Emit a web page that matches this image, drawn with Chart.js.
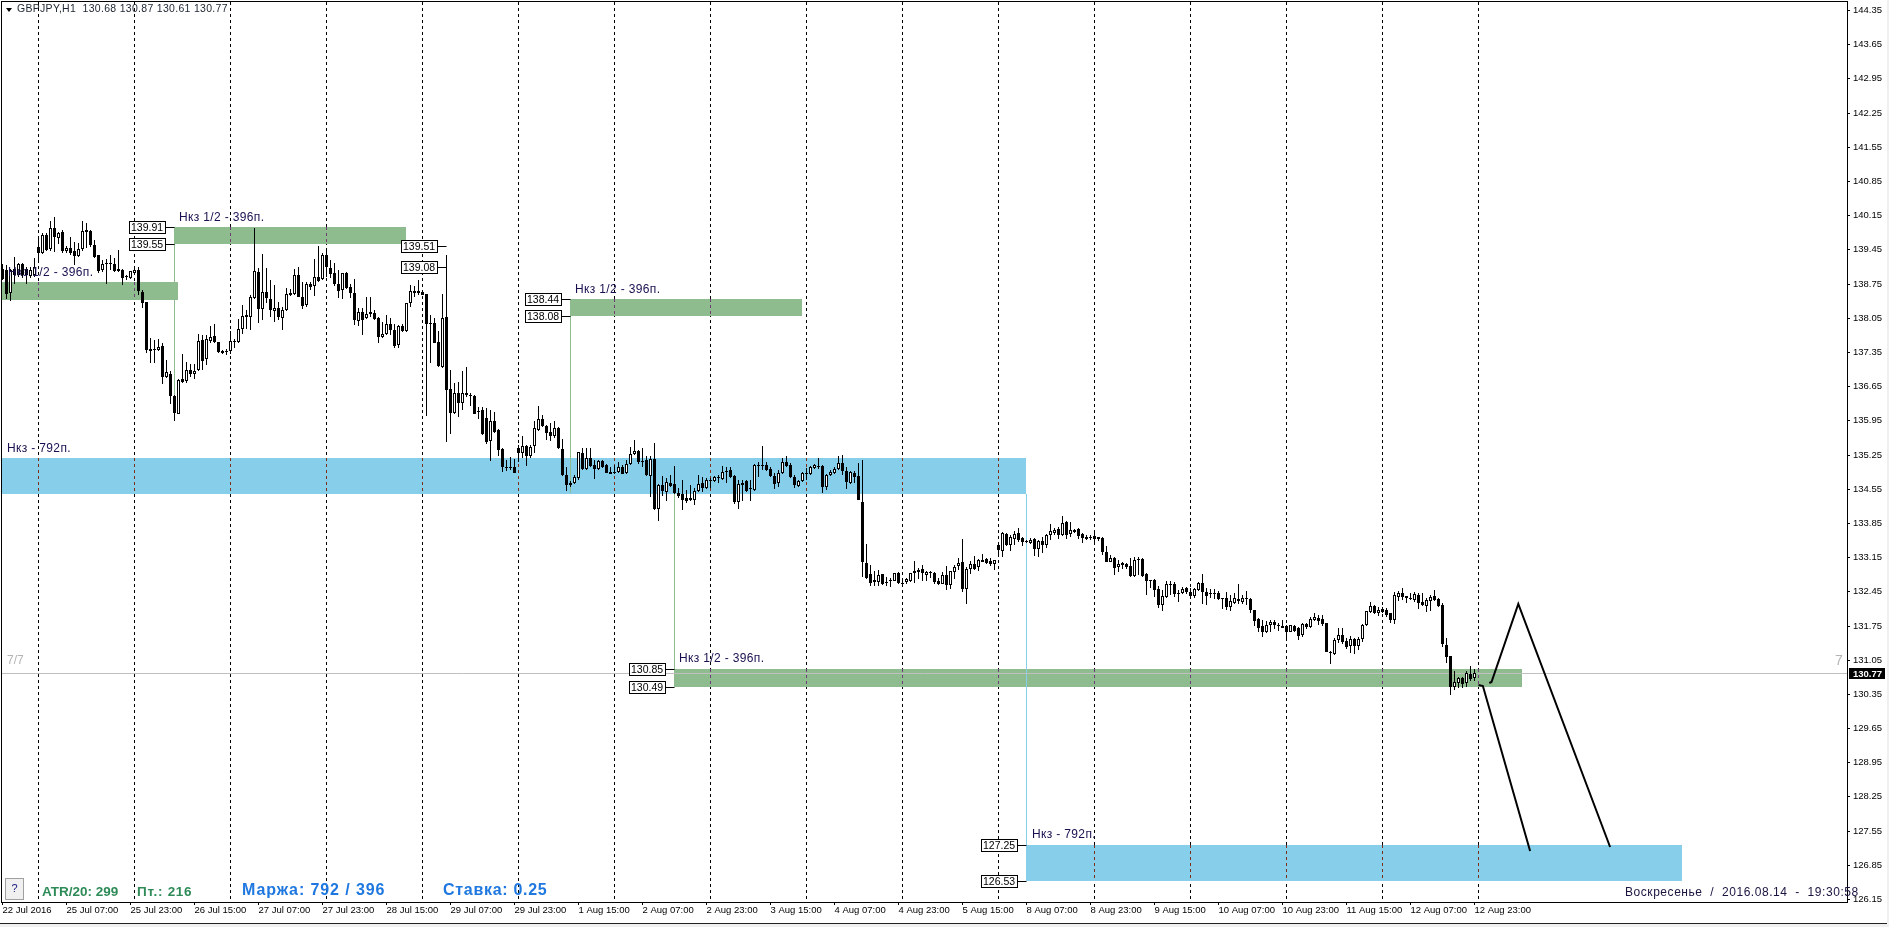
<!DOCTYPE html>
<html>
<head>
<meta charset="utf-8">
<title>GBPJPY,H1</title>
<script src="https://cdn.jsdelivr.net/npm/chart.js@4/dist/chart.umd.js"></script>
<style>
html, body { margin: 0; padding: 0; background: #f0f0f0; overflow: hidden; }
canvas { display: block; }
</style>
</head>
<body>
<canvas id="chart" width="1889" height="927"></canvas>
<script>
// hourly candles
const opens = [
139.04,139.03,138.56,139.04,138.93,139.16,139.04,138.90,138.93,139.50,
139.37,139.74,139.45,139.88,139.68,139.81,139.42,139.48,139.42,139.31,
139.45,139.85,139.83,139.54,139.33,139.03,139.17,139.17,139.16,139.04,
139.03,138.89,138.86,138.97,139.03,138.57,138.37,137.36,137.42,137.39,
137.47,136.83,136.89,136.45,136.09,136.79,136.76,136.98,136.89,136.98,
137.59,137.20,137.58,137.68,137.55,137.32,137.36,137.36,137.57,137.56,
137.83,138.11,138.06,138.45,138.99,138.22,138.57,138.43,138.19,138.26,
138.04,138.21,138.55,138.53,138.92,138.48,138.32,138.75,138.69,138.89,
138.84,139.33,139.06,138.96,138.75,138.62,138.96,138.67,138.56,137.99,
138.17,138.04,138.12,138.14,138.04,137.65,137.71,137.93,137.80,137.49,
137.88,137.77,138.35,138.60,138.60,138.57,138.54,137.95,137.95,137.55,
137.05,138.06,136.60,136.11,136.50,136.31,136.50,136.46,136.45,136.13,
136.16,135.99,135.52,135.94,135.75,135.36,134.99,134.99,134.99,135.38,
135.28,135.43,135.23,135.43,135.75,135.97,135.84,135.72,135.62,135.79,
135.37,134.83,134.63,134.66,134.76,135.28,134.95,135.18,135.03,134.96,
135.12,135.04,134.90,134.89,134.89,135.00,134.87,135.05,135.26,135.32,
135.11,135.13,134.82,135.16,134.14,134.62,134.49,134.66,134.64,134.46,
134.44,134.36,134.36,134.32,134.51,134.66,134.57,134.72,134.70,134.80,
134.75,134.91,134.94,134.81,134.27,134.66,134.70,134.55,134.53,135.03,
135.03,135.03,134.96,134.81,134.66,134.87,135.09,135.04,134.80,134.61,
134.70,134.87,134.85,134.97,135.01,135.01,134.58,134.83,134.87,134.96,
135.07,134.92,134.66,134.88,134.81,134.28,133.02,132.80,132.68,132.65,
132.80,132.64,132.67,132.67,132.82,132.63,132.65,132.66,132.87,132.85,
132.90,132.79,132.83,132.83,132.66,132.61,132.79,132.58,132.84,132.96,
133.05,132.49,132.90,133.01,132.94,133.09,133.11,133.07,133.00,133.39,
133.28,133.62,133.39,133.53,133.65,133.54,133.49,133.43,133.52,133.32,
133.48,133.39,133.60,133.65,133.73,133.60,133.87,133.63,133.71,133.72,
133.62,133.56,133.55,133.58,133.56,133.54,133.26,133.06,133.13,132.94,
133.02,133.01,132.97,132.76,133.11,133.11,132.81,132.68,132.68,132.50,
132.17,132.34,132.61,132.60,132.42,132.41,132.51,132.43,132.35,132.48,
132.63,132.44,132.42,132.41,132.42,132.31,132.31,132.13,132.22,132.29,
132.24,132.31,132.29,132.06,131.88,131.74,131.61,131.77,131.83,131.75,
131.73,131.74,131.62,131.75,131.69,131.55,131.78,131.71,131.87,131.90,
131.88,131.81,131.20,131.17,131.45,131.55,131.43,131.33,131.47,131.33,
131.47,131.76,132.03,132.15,132.00,132.08,132.07,132.00,131.86,132.34,
132.41,132.35,132.32,132.27,132.37,132.23,132.15,132.26,132.35,132.29,
132.16,131.36,131.12,130.50,130.58,130.67,130.58,130.76,130.68
];
const highs = [
139.16,139.13,139.04,139.29,139.18,139.18,139.08,139.08,139.27,139.68,
139.78,139.78,140.04,140.11,139.81,139.85,139.52,139.70,139.61,139.59,
140.04,140.00,139.85,139.64,139.33,139.23,139.25,139.33,139.27,139.44,
139.04,138.93,139.01,139.11,139.08,138.62,138.38,137.63,137.60,137.61,
137.53,137.19,136.95,136.47,136.79,137.31,137.14,137.10,137.10,137.72,
137.70,137.70,137.89,137.93,137.56,137.38,137.42,137.77,137.61,138.02,
138.31,138.20,138.52,139.88,139.06,139.36,139.06,138.82,138.72,138.38,
138.28,138.65,138.63,139.04,139.08,138.79,138.79,138.79,139.25,139.52,
139.38,139.47,139.23,139.18,139.03,138.97,138.99,138.74,138.84,138.24,
138.24,138.48,138.48,138.21,138.07,137.97,138.11,138.04,137.93,137.90,
137.92,138.36,138.72,138.70,138.82,138.62,138.54,138.11,138.04,137.77,
138.54,139.33,136.99,136.71,136.74,136.95,137.05,136.50,136.47,136.23,
136.22,136.20,136.16,136.13,135.77,135.38,135.14,135.19,135.15,135.45,
135.63,135.45,135.45,135.93,136.25,136.06,135.86,135.90,135.93,135.82,
135.56,135.00,134.70,134.83,135.31,135.38,135.38,135.38,135.14,135.14,
135.14,135.06,135.00,135.04,135.09,135.04,135.14,135.41,135.55,135.34,
135.38,135.21,135.21,135.48,134.64,134.81,134.76,134.83,135.02,134.56,
134.73,134.53,134.63,134.56,134.83,134.80,134.76,134.76,134.81,134.83,
135.02,135.00,135.00,134.83,134.73,134.73,134.73,134.73,135.05,135.09,
135.43,135.10,135.00,134.87,134.94,135.17,135.21,135.07,134.83,134.73,
134.90,134.97,135.02,135.06,135.17,135.04,134.85,134.94,135.00,135.21,
135.24,134.99,134.91,134.91,135.07,135.14,133.42,132.99,132.87,132.89,
132.80,132.74,132.72,132.83,132.84,132.72,132.73,132.83,133.07,132.92,
132.99,132.87,132.87,132.84,132.72,132.85,132.97,132.87,132.99,133.13,
133.52,132.94,133.07,133.17,133.11,133.22,133.13,133.13,133.10,133.41,
133.66,133.64,133.60,133.69,133.75,133.56,133.50,133.54,133.54,133.51,
133.57,133.62,133.83,133.75,133.77,133.99,133.89,133.86,133.72,133.74,
133.64,133.60,133.60,133.69,133.57,133.56,133.37,133.20,133.15,133.09,
133.06,133.02,133.13,133.15,133.15,133.13,132.82,132.69,132.70,132.55,
132.48,132.67,132.67,132.65,132.48,132.53,132.53,132.51,132.51,132.65,
132.80,132.51,132.49,132.50,132.46,132.32,132.43,132.37,132.41,132.60,
132.37,132.46,132.31,132.07,131.90,131.86,131.85,131.86,131.86,131.80,
131.86,131.77,131.77,131.77,131.71,131.81,131.81,131.92,132.00,131.96,
131.96,131.81,131.23,131.49,131.69,131.69,131.49,131.53,131.49,131.51,
131.79,132.05,132.24,132.17,132.12,132.12,132.10,132.01,132.44,132.46,
132.51,132.36,132.42,132.44,132.42,132.41,132.32,132.37,132.48,132.31,
132.22,131.49,131.13,130.82,130.69,130.69,130.81,130.92,130.87
];
const lows = [
138.82,138.43,138.40,138.75,138.89,138.86,138.75,138.86,138.88,139.20,
139.35,139.42,139.42,139.40,139.57,139.37,139.38,139.33,139.13,139.29,
139.42,139.47,139.50,139.27,138.96,138.99,138.75,139.03,138.99,138.99,
138.72,138.82,138.84,138.96,138.52,138.24,137.32,137.13,137.12,137.36,
136.69,136.81,136.28,135.94,136.08,136.72,136.71,136.83,136.79,136.97,
136.98,137.08,137.54,137.53,137.32,137.31,137.29,137.31,137.44,137.54,
137.72,137.83,137.80,138.43,137.95,138.00,138.35,138.06,137.97,138.00,
137.79,138.19,138.50,138.52,138.47,138.22,138.28,138.62,138.50,138.78,
138.82,138.89,138.86,138.69,138.45,138.43,138.63,138.45,137.90,137.89,
137.69,138.02,138.07,138.00,137.54,137.63,137.70,137.70,137.44,137.44,
137.75,137.75,138.28,138.47,138.52,138.51,136.03,137.13,137.53,137.05,
137.03,135.51,135.67,136.09,136.01,136.16,136.43,136.24,136.08,135.97,
135.65,135.47,135.11,135.69,135.22,134.90,134.92,134.94,134.87,135.10,
135.17,135.02,135.17,135.29,135.74,135.82,135.54,135.52,135.58,135.37,
134.81,134.51,134.59,134.65,134.73,134.94,134.94,135.00,134.75,134.94,
134.97,134.87,134.85,134.85,134.87,134.85,134.85,135.04,135.24,135.06,
135.00,134.82,134.39,134.12,133.88,134.40,134.29,134.58,134.44,134.36,
134.12,134.25,134.29,134.22,134.49,134.49,134.55,134.56,134.68,134.66,
134.73,134.66,134.76,134.24,134.14,134.29,134.49,134.29,134.51,134.80,
134.94,134.92,134.80,134.55,134.59,134.85,135.00,134.76,134.56,134.59,
134.68,134.72,134.83,134.96,134.96,134.47,134.53,134.82,134.85,134.94,
134.83,134.55,134.65,134.66,134.31,132.75,132.70,132.55,132.55,132.55,
132.58,132.56,132.53,132.66,132.61,132.56,132.61,132.65,132.63,132.70,
132.66,132.66,132.73,132.59,132.58,132.60,132.48,132.50,132.70,132.89,
132.44,132.19,132.81,132.89,132.87,133.04,133.01,132.97,132.89,133.17,
133.16,133.37,133.28,133.40,133.45,133.37,133.43,133.41,133.17,133.16,
133.24,133.34,133.50,133.60,133.53,133.59,133.53,133.57,133.65,133.52,
133.43,133.50,133.50,133.43,133.47,133.20,133.04,133.04,132.79,132.85,
132.91,132.90,132.74,132.75,132.79,132.75,132.38,132.51,132.34,132.10,
132.05,132.31,132.37,132.34,132.24,132.40,132.40,132.31,132.32,132.46,
132.19,132.18,132.31,132.29,132.28,132.09,132.07,132.05,132.19,132.19,
132.20,132.17,132.00,131.73,131.62,131.52,131.60,131.62,131.68,131.64,
131.69,131.49,131.61,131.61,131.45,131.52,131.68,131.69,131.85,131.76,
131.73,131.20,130.96,131.15,131.39,131.37,131.27,131.19,131.17,131.25,
131.42,131.74,132.00,131.99,131.94,132.00,131.93,131.81,131.78,132.26,
132.27,132.22,132.27,132.24,132.09,132.14,132.03,132.05,132.26,132.13,
131.30,130.99,130.33,130.42,130.48,130.48,130.50,130.62,130.61
];
const closes = [
138.84,138.53,139.03,138.93,139.16,138.93,138.93,139.03,139.08,139.38,
139.74,139.44,139.88,139.70,139.78,139.42,139.47,139.38,139.31,139.45,
139.83,139.81,139.53,139.30,139.01,139.16,139.15,139.15,139.01,139.00,
138.86,138.88,139.00,139.03,138.60,138.35,137.38,137.42,137.38,137.46,
136.83,136.93,136.45,136.11,136.78,136.74,136.99,136.90,136.96,137.58,
137.17,137.61,137.65,137.56,137.34,137.36,137.35,137.57,137.56,137.83,
138.09,138.06,138.47,139.00,138.22,138.57,138.45,138.21,138.26,138.06,
138.20,138.53,138.52,138.92,138.48,138.30,138.75,138.67,138.89,138.81,
139.33,139.08,138.95,138.74,138.60,138.96,138.65,138.56,138.00,138.16,
138.00,138.12,138.16,138.02,137.66,137.71,137.93,137.80,137.48,137.88,
137.78,138.35,138.60,138.56,138.56,138.52,137.92,137.93,137.54,137.06,
138.04,136.58,136.11,136.50,136.30,136.50,136.46,136.45,136.09,136.12,
135.67,135.50,135.93,135.72,135.34,134.99,134.98,134.98,134.88,135.29,
135.43,135.21,135.41,135.79,135.97,135.84,135.69,135.62,135.79,135.38,
134.83,134.63,134.66,134.79,135.30,134.96,135.17,135.02,134.96,135.11,
134.99,134.88,134.86,134.87,135.00,134.86,135.05,135.26,135.32,135.09,
135.10,134.83,135.16,134.13,134.62,134.51,134.68,134.61,134.46,134.41,
134.32,134.30,134.32,134.51,134.64,134.57,134.73,134.71,134.79,134.77,
134.89,134.89,134.80,134.27,134.65,134.63,134.51,134.54,135.03,135.02,
135.02,134.94,134.81,134.65,134.87,135.09,135.02,134.78,134.63,134.71,
134.88,134.86,134.99,135.04,135.00,134.59,134.83,134.90,134.95,135.07,
134.92,134.68,134.89,134.78,134.31,133.04,132.72,132.63,132.65,132.79,
132.60,132.63,132.66,132.82,132.63,132.61,132.70,132.82,132.83,132.89,
132.82,132.85,132.82,132.65,132.61,132.79,132.58,132.87,132.95,133.02,
132.50,132.91,133.01,132.91,133.09,133.06,133.03,133.01,133.09,133.30,
133.64,133.39,133.56,133.62,133.50,133.45,133.45,133.50,133.32,133.49,
133.39,133.60,133.69,133.71,133.61,133.84,133.60,133.71,133.67,133.59,
133.54,133.52,133.54,133.52,133.52,133.26,133.06,133.13,132.93,133.01,
132.99,132.95,132.76,133.09,133.10,132.76,132.67,132.67,132.48,132.17,
132.35,132.61,132.58,132.40,132.40,132.50,132.44,132.35,132.50,132.63,
132.44,132.36,132.39,132.40,132.29,132.30,132.13,132.25,132.31,132.25,
132.31,132.30,132.07,131.85,131.70,131.62,131.77,131.83,131.76,131.74,
131.70,131.62,131.76,131.64,131.54,131.79,131.72,131.88,131.92,131.85,
131.78,131.21,131.19,131.45,131.55,131.42,131.32,131.48,131.33,131.47,
131.77,132.04,132.15,132.00,132.07,132.03,131.96,131.86,132.37,132.41,
132.33,132.31,132.29,132.40,132.22,132.16,132.27,132.34,132.27,132.15,
131.37,131.11,130.50,130.60,130.67,130.55,130.77,130.65,130.77
];

const priceTicks = [144.35,143.65,142.95,142.25,141.55,140.85,140.15,139.45,138.75,138.05,137.35,136.65,135.95,135.25,134.55,133.85,133.15,132.45,131.75,131.05,130.35,129.65,128.95,128.25,127.55,126.85,126.15];
const timeBars = [0,16,32,48,64,80,96,112,128,144,160,176,192,208,224,240,256,272,288,304,320,336,352,368];
const timeLabels = ["22 Jul 2016","25 Jul 07:00","25 Jul 23:00","26 Jul 15:00","27 Jul 07:00","27 Jul 23:00","28 Jul 15:00","29 Jul 07:00","29 Jul 23:00","1 Aug 15:00","2 Aug 07:00","2 Aug 23:00","3 Aug 15:00","4 Aug 07:00","4 Aug 23:00","5 Aug 15:00","8 Aug 07:00","8 Aug 23:00","9 Aug 15:00","10 Aug 07:00","10 Aug 23:00","11 Aug 15:00","12 Aug 07:00","12 Aug 23:00"];
const gridBars = [9,33,57,81,105,129,153,177,201,225,249,273,297,321,345,369];

// zones drawn on the chart
const zoneStart = [-0.125,42.875,141.875,-0.125,167.875,255.875];
const zoneEnd = [43.875,100.875,199.875,255.875,379.875,419.875];
const zoneTop = [138.78,139.91,138.44,135.18,130.85,127.25];
const zoneBottom = [138.41,139.55,138.08,134.45,130.49,126.53];
const zoneKind = ["half","half","half","full","half","full"];

const stemBars = [43,142,168,256];
const stemFrom = [139.55,138.08,134.45,134.45];
const stemTo = [136.17,134.47,130.85,127.25];
const stemKind = ["half","half","half","full"];

const tagPrices = [139.91,139.55,139.51,139.08,138.44,138.08,130.85,130.49,127.25,126.53];
const tagBars = [43,43,111,111,142,142,168,168,256,256];

const lastPrice = 130.77;
const pathABars = [371.7,372.25,378.95,401.9];
const pathAPrices = [130.57,130.59,132.19,127.22];
const pathBBars = [369,370.1,381.9];
const pathBPrices = [130.53,130.52,127.14];

const zoneColor = { half: "#8FBC8F", full: "#87CEEB" };
const gridOnZone = { half: "#6f3f74", full: "#7d2f18" };
const xMin = -0.125, xMax = 461.125, yMin = 126.09, yMax = 144.514;

function toPoints(xs, ys) { return xs.map((x, i) => ({ x: x, y: ys[i] })); }

// MetaTrader draws on whole pixels, so snap the price scales too
function snap(scale, extra) {
    if (scale._snapped) return;
    scale._snapped = true;
    const f = scale.getPixelForValue.bind(scale);
    scale.getPixelForValue = v => Math.round(f(v)) + extra;
}

const datasets = [];
zoneStart.forEach((s, i) => {
    datasets.push({ type: "line", data: toPoints([s, zoneEnd[i]], [zoneTop[i], zoneTop[i]]),
        fill: { value: zoneBottom[i] }, backgroundColor: zoneColor[zoneKind[i]],
        borderWidth: 0, pointRadius: 0, order: 20 });
    gridBars.filter(b => b > s && b < zoneEnd[i]).forEach(b => {
        datasets.push({ type: "line", data: toPoints([b, b], [zoneTop[i], zoneBottom[i]]),
            borderColor: gridOnZone[zoneKind[i]], borderWidth: 1, borderDash: [3, 3], pointRadius: 0, order: 15 });
    });
});
stemBars.forEach((b, i) => {
    datasets.push({ type: "line", data: toPoints([b, b], [stemFrom[i], stemTo[i]]),
        borderColor: zoneColor[stemKind[i]], borderWidth: 1, pointRadius: 0, order: 12 });
});
tagBars.forEach((b, i) => {
    datasets.push({ type: "line", yAxisID: "yLine", data: toPoints([b - 2.25, b], [tagPrices[i], tagPrices[i]]),
        borderColor: "#000", borderWidth: 1, pointRadius: 0, order: 11 });
});
datasets.push({ type: "line", yAxisID: "yLine", data: toPoints([xMin, xMax], [lastPrice, lastPrice]),
    borderColor: "#C0C0C0", borderWidth: 1, pointRadius: 0, order: 10 });
datasets.push({ type: "bar", grouped: false, barThickness: 1, minBarLength: 1, inflateAmount: 0,
    data: lows.map((l, i) => ({ x: i, y: [l, highs[i]] })), backgroundColor: "#000", borderWidth: 0, order: 3 });
datasets.push({ type: "bar", grouped: false, barThickness: 3, minBarLength: 1, inflateAmount: 0,
    data: opens.map((o, i) => ({ x: i, y: [o, closes[i]] })),
    backgroundColor: opens.map((o, i) => closes[i] > o ? "#fff" : "#000"),
    borderColor: "#000", borderWidth: 1, borderSkipped: false, order: 2 });
datasets.push({ type: "line", data: toPoints(pathABars, pathAPrices), borderColor: "#000", borderWidth: 2, pointRadius: 0, tension: 0, order: 1 });
datasets.push({ type: "line", data: toPoints(pathBBars, pathBPrices), borderColor: "#000", borderWidth: 2, pointRadius: 0, tension: 0, order: 1 });

const noteFont = "12px 'Liberation Sans'";
const noteColor = "#1a1050";
const notes = [
    { text: "GBPJPY,H1  130.68 130.87 130.61 130.77", x: 17, y: 9, font: "10.5px 'Liberation Sans'", color: "#1c2430", spacing: "0.3px" },
    { text: "Нкз 1/2 - 396п.", x: 8, y: 273, font: noteFont, color: noteColor, spacing: "0.35px" },
    { text: "Нкз 1/2 - 396п.", x: 179, y: 218, font: noteFont, color: noteColor, spacing: "0.35px" },
    { text: "Нкз 1/2 - 396п.", x: 575, y: 290, font: noteFont, color: noteColor, spacing: "0.35px" },
    { text: "Нкз 1/2 - 396п.", x: 679, y: 659, font: noteFont, color: noteColor, spacing: "0.35px" },
    { text: "Нкз - 792п.", x: 7, y: 449, font: noteFont, color: noteColor, spacing: "0.35px" },
    { text: "Нкз - 792п.", x: 1032, y: 835, font: noteFont, color: noteColor, spacing: "0.35px" },
    { text: "7/7", x: 7, y: 661, font: "12px 'Liberation Sans'", color: "#b4b4b4" },
    { text: "7", x: 1835, y: 661, font: "14px 'Liberation Sans'", color: "#b4b4b4" },
    { text: "ATR/20: 299", x: 42, y: 892, font: "bold 13.5px 'Liberation Sans'", color: "#2E8B57" },
    { text: "Пт.: 216", x: 137, y: 892, font: "bold 13.5px 'Liberation Sans'", color: "#2E8B57", spacing: "0.7px" },
    { text: "Маржа: 792 / 396", x: 242, y: 891, font: "bold 16px 'Liberation Sans'", color: "#1E78E0", spacing: "0.9px" },
    { text: "Ставка: 0.25", x: 443, y: 891, font: "bold 16px 'Liberation Sans'", color: "#1E78E0", spacing: "0.7px" },
    { text: "Воскресенье  /  2016.08.14  -  19:30:58", x: 1625, y: 893, font: "12px 'Liberation Sans'", color: "#1a1440", spacing: "0.55px" }
];

const overlay = {
    id: "overlay",
    beforeDraw(chart) {
        const ctx = chart.ctx;
        ctx.save();
        ctx.fillStyle = "#f0f0f0";
        ctx.fillRect(0, 0, 1889, 927);
        ctx.fillStyle = "#fff";
        ctx.fillRect(0, 0, 1887, 923);
        ctx.fillStyle = "#222";
        ctx.fillRect(0, 923, 1887, 1);
        ctx.restore();
    },
    afterDraw(chart) {
        const ctx = chart.ctx, sx = chart.scales.x, sy = chart.scales.yLine;
        ctx.save();
        // plot frame
        ctx.strokeStyle = "#000";
        ctx.lineWidth = 1;
        ctx.strokeRect(1.5, 1.5, 1846, 901);
        // dropdown mark in the header
        ctx.fillStyle = "#000";
        ctx.beginPath();
        ctx.moveTo(6, 8); ctx.lineTo(12, 8); ctx.lineTo(9, 12); ctx.closePath();
        ctx.fill();
        ctx.textBaseline = "middle";
        ctx.textAlign = "left";
        // price tags on the zone edges
        tagPrices.forEach((p, i) => {
            const right = Math.floor(sx.getPixelForValue(tagBars[i])) - 9;
            const mid = sy.getPixelForValue(p);
            ctx.fillStyle = "#fff";
            ctx.strokeStyle = "#000";
            ctx.fillRect(right - 36, mid - 6, 36, 12);
            ctx.strokeRect(right - 36 + 0.5, mid - 6, 36, 12);
            ctx.fillStyle = "#000";
            ctx.font = "10.5px 'Liberation Sans'";
            ctx.letterSpacing = "0px";
            ctx.fillText(p.toFixed(2), right - 34, mid + 0.5);
        });
        notes.forEach(n => {
            ctx.font = n.font;
            ctx.fillStyle = n.color;
            ctx.letterSpacing = n.spacing || "0px";
            ctx.fillText(n.text, n.x, n.y);
        });
        ctx.letterSpacing = "0px";
        // last price box on the axis
        const lp = sy.getPixelForValue(lastPrice);
        ctx.fillStyle = "#000";
        ctx.fillRect(1849, lp - 5.5, 36, 11);
        ctx.fillStyle = "#fff";
        ctx.font = "bold 9.5px 'Liberation Sans'";
        ctx.fillText(lastPrice.toFixed(2), 1853, lp + 0.5);
        // help button
        ctx.fillStyle = "#f0f0f0";
        ctx.fillRect(5, 878, 18, 21);
        ctx.strokeStyle = "#a0a0a0";
        ctx.strokeRect(5.5, 878.5, 18, 21);
        ctx.fillStyle = "#1a1a80";
        ctx.font = "11px 'Liberation Sans'";
        ctx.fillText("?", 11.5, 889);
        ctx.restore();
    }
};

new Chart(document.getElementById("chart"), {
    data: { datasets: datasets },
    plugins: [overlay],
    options: {
        responsive: false,
        animation: false,
        events: [],
        layout: { padding: { left: 2, top: 2, right: 2, bottom: 0 } },
        plugins: { legend: { display: false }, tooltip: { enabled: false } },
        scales: {
            x: {
                type: "linear", position: "bottom", min: xMin, max: xMax, offset: false,
                grid: { drawOnChartArea: false, color: "#000", tickLength: 3, offset: false },
                border: { color: "#000" },
                afterBuildTicks: s => { s.ticks = timeBars.map(v => ({ value: v })); },
                afterFit: s => { s.height = 25; s.paddingLeft = 0; s.paddingRight = 0; },
                ticks: {
                    autoSkip: false, maxRotation: 0, align: "start", padding: 0,
                    color: "#000", font: { family: "'Liberation Sans'", size: 9.5 },
                    callback: (v, i) => timeLabels[i]
                }
            },
            xGrid: {
                type: "linear", axis: "x", position: "top", min: xMin, max: xMax,
                grid: { color: "#000", drawTicks: false },
                border: { display: false, dash: [3, 3] },
                afterBuildTicks: s => { s.ticks = gridBars.map(v => ({ value: v })); },
                afterFit: s => { s.height = 0; },
                ticks: { display: false, autoSkip: false }
            },
            y: {
                type: "linear", position: "right", min: yMin, max: yMax,
                grid: { drawOnChartArea: false, color: "#000", tickLength: 3 },
                border: { color: "#000" },
                afterBuildTicks: s => { s.ticks = priceTicks.map(v => ({ value: v })); snap(s, 0); },
                afterFit: s => { s.width = 40; s.paddingTop = 0; s.paddingBottom = 0; },
                ticks: {
                    autoSkip: false, padding: 3, color: "#000",
                    font: { family: "'Liberation Sans'", size: 9.5 },
                    callback: (v, i) => priceTicks[i].toFixed(2)
                }
            },
            yLine: {
                type: "linear", axis: "y", position: "right", display: false, min: yMin, max: yMax,
                afterBuildTicks: s => snap(s, 0.5)
            }
        }
    }
});
</script>
</body>
</html>
